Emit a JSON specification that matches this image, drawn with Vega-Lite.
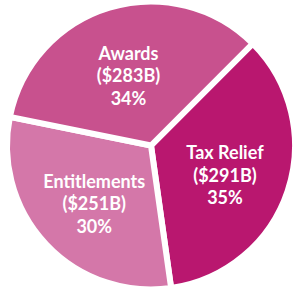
{
  "$schema": "https://vega.github.io/schema/vega-lite/v6.json",
  "width": 282,
  "height": 287,
  "autosize": {"type": "none"},
  "padding": {"left": 10, "right": 8, "top": 2, "bottom": 9},
  "background": "white",
  "data": {"values": [
    {"cat": "Tax Relief", "value": 291, "pct": 35, "order": 1},
    {"cat": "Entitlements", "value": 251, "pct": 30, "order": 2},
    {"cat": "Awards", "value": 283, "pct": 34, "order": 3}
  ]},
  "transform": [
    {"calculate": "datum.cat + '\\n($' + datum.value + 'B)\\n' + datum.pct + '%'", "as": "label"}
  ],
  "encoding": {
    "theta": {"field": "value", "type": "quantitative", "stack": true, "scale": {"range": [0.785, 7.068]}},
    "order": {"field": "order", "type": "quantitative"}
  },
  "layer": [
    {
      "mark": {"type": "arc", "outerRadius": 144, "stroke": "white", "strokeWidth": 6},
      "encoding": {
        "color": {"field": "cat", "type": "nominal", "legend": null,
          "scale": {"domain": ["Tax Relief", "Entitlements", "Awards"], "range": ["#b9176f", "#d477a9", "#c8518e"]}}
      }
    },
    {
      "mark": {"type": "text", "font": "Lato", "fontSize": 18, "fontWeight": "bold", "fill": "white", "lineBreak": "\n", "lineHeight": 22.5, "align": "center", "baseline": "middle", "dy": -16},
      "encoding": {
        "text": {"field": "label", "type": "nominal"},
        "radius": {"condition": [{"test": "datum.cat === 'Awards'", "value": 73}, {"test": "datum.cat === 'Entitlements'", "value": 106}], "value": 78}
      }
    }
  ]
}
